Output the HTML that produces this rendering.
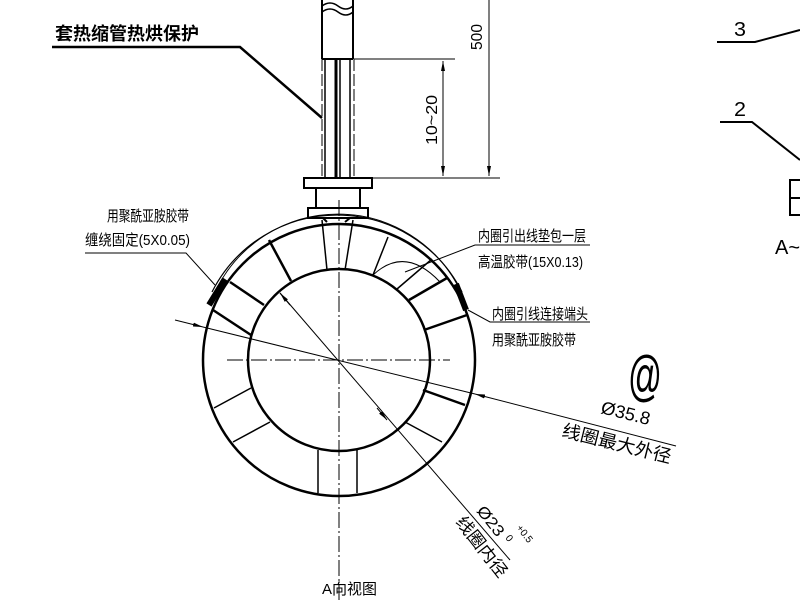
<!DOCTYPE html>
<html><head><meta charset="utf-8"><style>
html,body{margin:0;padding:0;background:#fff}
svg{display:block}
text{font-family:"Liberation Sans","Noto Sans CJK SC",sans-serif;fill:#000}
</style></head><body>
<svg width="800" height="600" viewBox="0 0 800 600" xmlns="http://www.w3.org/2000/svg">
<defs>
<marker id="ar" viewBox="0 0 10 4" refX="10" refY="2" markerWidth="10" markerHeight="4" orient="auto-start-reverse" markerUnits="userSpaceOnUse"><path d="M0,0 L10,2 L0,4z" fill="#000"/></marker>
</defs>
<g fill="none" stroke="#000">
<path d="M322,0 V59 M353,0 V59 M322,59 H353" stroke-width="2"/>
<path d="M322,6 q8,-6 16,0 t15,0 M322,12 q8,-6 16,0 t15,0" stroke-width="1.5"/>
<path d="M325,59 V178 M340,59 V178 M350,59 V178" stroke-width="1.5"/>
<path d="M336,59 V178" stroke-width="3"/>
<path d="M322,59 V178 M354,59 V178" stroke-width="1" stroke-dasharray="12,3"/>
<rect x="304" y="178" width="68" height="10" stroke-width="2"/>
<path d="M316,188 V208 M360,188 V208" stroke-width="2"/>
<rect x="308" y="208" width="60" height="10" stroke-width="2"/>
<path d="M323,218 L327,222 M350,218 L345,222" stroke-width="2"/>
<path d="M354,59 H455 M372,178 H500" stroke-width="1"/>
<path d="M443,61 V176" stroke-width="1" marker-start="url(#ar)" marker-end="url(#ar)"/>
<path d="M489,0 V176" stroke-width="1" marker-end="url(#ar)"/>
<path d="M52,47 H240 L322,118" stroke-width="2.5"/>
<circle cx="339" cy="360" r="136" stroke-width="2.5"/>
<circle cx="339" cy="360" r="91" stroke-width="2.5"/>
<path d="M212,292 A140,140 0 0 1 462,292" stroke-width="1.2"/>
<path d="M216,290 A136,136 0 0 1 460,290" stroke-width="1"/>
<path d="M209,305 L225,279" stroke-width="6"/>
<path d="M456,284 L466,310" stroke-width="6"/>
<path d="M269,240 L291,281 M230,282 L264,305 M213,310 L251,335 M423,390 L465,405 M424,330 L467,315 M409,300 L447,278" stroke-width="2.5"/>
<path d="M214,408 L251,388 M233,442 L270,422 M318,450 V493 M357,450 V493 M405,422 L442,442 M397,289 L432,259 M373,275 L388,237 M327,270 L322,220 M345,270 L353,220" stroke-width="1.5"/>
<path d="M373,275 Q405,245 440,282" stroke-width="1"/>
<path d="M227,360 H450" stroke-width="1" stroke-dasharray="16,3,2,3"/>
<path d="M339,200 V600" stroke-width="1" stroke-dasharray="16,3,2,3"/>
<path d="M175,320 L203,327" stroke-width="1" marker-end="url(#ar)"/>
<path d="M676,446 L475,394" stroke-width="1" marker-end="url(#ar)"/>
<path d="M203,327 L475,394" stroke-width="1"/>
<path d="M280,293 L510,560" stroke-width="1"/>
<path d="M290,305 L280,293" stroke-width="1" marker-end="url(#ar)"/>
<path d="M377,408 L387,420" stroke-width="1" marker-end="url(#ar)"/>
<path d="M85,253 H186 L215,285" stroke-width="1"/>
<path d="M590,245 H475 L405,272" stroke-width="1"/>
<path d="M590,322 H490 L468,310" stroke-width="1"/>
<path d="M717,42 H755 L800,30" stroke-width="2"/>
<path d="M720,122 H752 L800,160" stroke-width="2"/>
<path d="M800,180 H790 V215 H800 M790,198 H800" stroke-width="2"/>
</g>
<text x="55" y="40" font-size="18" font-weight="bold">套热缩管热烘保护</text>
<text x="107" y="221" font-size="15" textLength="82" lengthAdjust="spacingAndGlyphs">用聚酰亚胺胶带</text>
<text x="85" y="245" font-size="15" textLength="105" lengthAdjust="spacingAndGlyphs">缠绕固定(5X0.05)</text>
<text x="478" y="241" font-size="15" textLength="108" lengthAdjust="spacingAndGlyphs">内圈引出线垫包一层</text>
<text x="478" y="267" font-size="15" textLength="105" lengthAdjust="spacingAndGlyphs">高温胶带(15X0.13)</text>
<text x="492" y="319" font-size="15" textLength="96" lengthAdjust="spacingAndGlyphs">内圈引线连接端头</text>
<text x="492" y="345" font-size="15" textLength="84" lengthAdjust="spacingAndGlyphs">用聚酰亚胺胶带</text>
<text transform="translate(482,50) rotate(-90)" font-size="16" textLength="26" lengthAdjust="spacingAndGlyphs">500</text>
<text transform="translate(437,145) rotate(-90)" font-size="16" textLength="50" lengthAdjust="spacingAndGlyphs">10~20</text>
<text x="628" y="395" font-size="56" textLength="34" lengthAdjust="spacingAndGlyphs">@</text>
<text transform="translate(600,413) rotate(14)" font-size="18" textLength="50" lengthAdjust="spacingAndGlyphs" font-family="Liberation Mono">Ø35.8</text>
<text transform="translate(561,436) rotate(14)" font-size="18" textLength="112" lengthAdjust="spacingAndGlyphs">线圈最大外径</text>
<text transform="translate(476,511) rotate(52)" font-size="16" textLength="34" lengthAdjust="spacingAndGlyphs" font-family="Liberation Mono">Ø23</text>
<text transform="translate(516,528) rotate(52)" font-size="10">+0.5</text>
<text transform="translate(505,538) rotate(52)" font-size="10">0</text>
<text transform="translate(455,522) rotate(52)" font-size="17" textLength="72" lengthAdjust="spacingAndGlyphs">线圈内径</text>
<text x="322" y="594" font-size="15" textLength="55" lengthAdjust="spacingAndGlyphs">A向视图</text>
<text x="734" y="36" font-size="20" textLength="12" lengthAdjust="spacingAndGlyphs">3</text>
<text x="734" y="116" font-size="20" textLength="12" lengthAdjust="spacingAndGlyphs">2</text>
<text x="775" y="254" font-size="20" textLength="25" lengthAdjust="spacingAndGlyphs">A~</text>
</svg>
</body></html>
